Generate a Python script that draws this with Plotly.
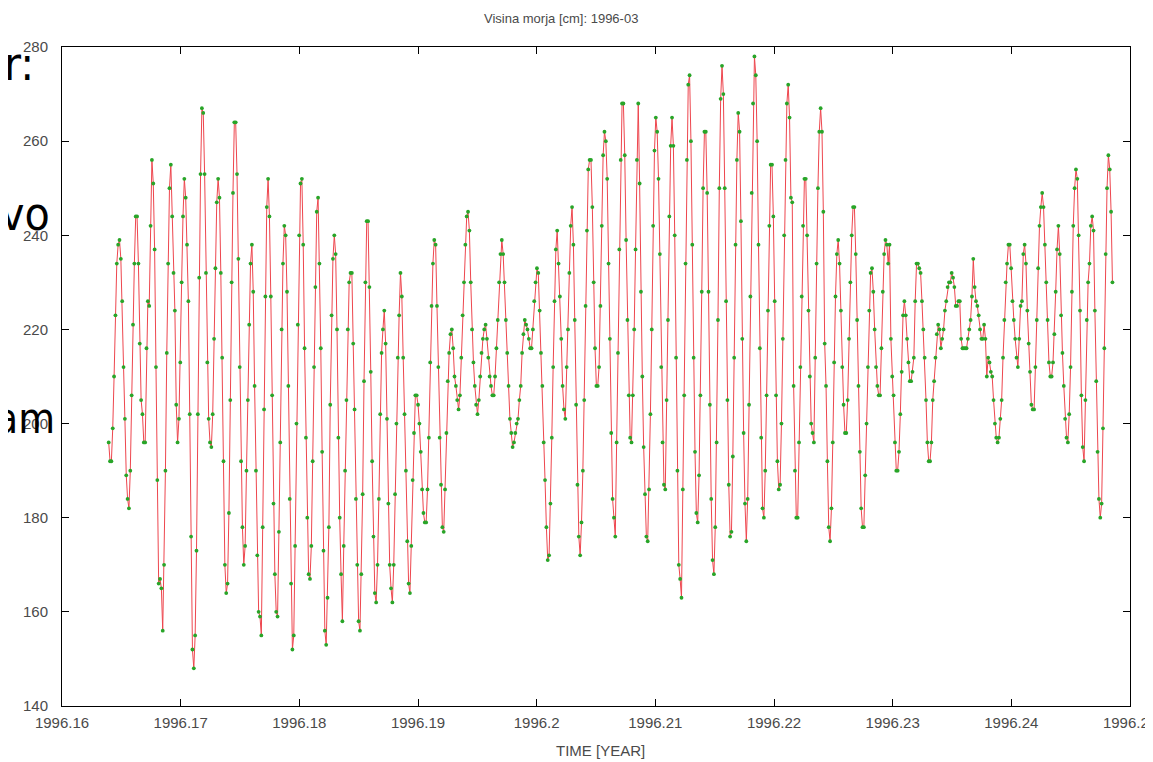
import plotly.graph_objects as go

# Hourly sea level, March 1996 (one row per day, 24 hourly readings)
sea_level_cm = [
    196,192,192,199,210,223,234,238,239,235,226,212,201,189,184,182,190,206,221,234,244,244,234,217,
    205,202,196,196,216,226,225,242,256,251,237,212,188,166,167,165,156,170,190,215,234,250,255,244,
    232,224,204,196,201,213,230,244,252,248,238,226,202,176,152,148,155,173,202,231,253,267,266,253,
    232,213,201,196,195,202,218,233,247,252,248,232,214,192,170,164,166,181,205,230,249,264,264,253,
    235,212,192,178,170,174,190,205,221,234,238,228,208,190,172,160,159,155,178,203,227,246,252,244,
    227,206,183,168,160,159,177,196,220,234,242,240,228,208,184,166,152,155,174,200,221,240,251,252,
    238,216,197,180,168,167,174,192,212,229,245,248,234,216,194,173,156,153,163,178,204,223,235,240,
    236,220,197,180,168,158,174,190,205,220,230,232,232,217,203,184,170,158,156,168,185,209,230,243,
    243,229,211,192,176,164,162,170,184,202,215,220,224,217,201,183,170,165,162,170,185,200,214,223,
    232,227,214,202,190,175,166,164,174,188,198,206,206,204,200,194,186,181,179,179,186,197,213,225,
    234,239,238,225,212,197,187,178,177,186,198,209,215,219,220,216,210,208,205,203,206,214,223,230,
    238,244,245,241,230,220,213,208,204,202,205,210,215,218,220,221,218,214,210,208,206,206,210,216,
    222,230,236,239,236,230,222,215,208,201,198,195,196,198,200,201,205,208,215,219,222,221,220,218,
    216,216,220,226,230,233,232,224,215,208,196,188,178,171,172,183,197,212,226,237,241,234,227,218,
    208,203,201,212,220,232,242,246,238,222,204,187,176,172,179,190,205,225,241,254,256,256,246,230,
    216,208,208,212,225,242,257,262,260,252,234,218,198,184,180,176,196,215,237,256,268,268,257,239,
    222,206,197,196,206,220,237,256,268,251,228,210,195,185,176,175,186,202,220,242,258,265,262,252,
    236,212,196,187,186,205,222,244,259,265,259,240,214,190,170,167,163,186,206,234,256,272,274,260,
    238,214,194,181,179,189,206,228,250,262,262,249,228,204,184,171,168,178,196,222,250,269,276,270,
    250,226,205,187,176,177,193,214,238,256,266,262,243,218,198,183,175,184,204,227,249,268,278,274,
    260,238,216,197,182,180,190,206,224,242,255,255,244,226,206,192,186,187,200,218,240,256,268,272,
    265,248,247,208,190,180,180,196,212,227,242,252,252,240,224,210,200,198,196,214,234,250,262,267,
    262,245,217,208,192,178,175,182,196,213,227,236,239,234,224,212,204,198,198,205,218,230,240,246,
    246,236,222,208,194,182,178,178,189,200,212,224,232,233,228,220,212,208,206,206,216,228,236,239,
    238,234,238,218,210,206,196,190,190,194,202,211,223,226,223,218,213,209,209,211,214,226,234,234,
    233,232,226,220,214,205,196,192,192,196,205,209,214,219,221,220,216,218,220,224,226,229,230,230,
    232,231,229,225,225,226,226,218,216,216,216,216,218,220,222,227,235,229,226,225,223,220,218,218,
    221,218,210,214,213,211,210,205,200,197,196,197,201,205,214,222,230,234,238,238,233,226,222,218,
    214,212,218,225,226,236,238,234,224,217,211,204,203,203,212,222,233,242,246,249,246,238,230,222,
    213,210,210,213,219,228,237,242,236,223,215,208,201,197,196,202,212,228,242,250,254,252,240,224,
    206,195,192,205,222,230,234,242,244,241,224,209,194,184,180,183,199,216,236,250,257,254,245,230,
]

YEAR = 1996
DAYS_IN_YEAR = 366
START_DAY = 60  # 1 March (0-based day of year)
time_year = [YEAR + (START_DAY + h / 24.0) / DAYS_IN_YEAR for h in range(len(sea_level_cm))]

x_ticks = [1996.16, 1996.17, 1996.18, 1996.19, 1996.20, 1996.21, 1996.22, 1996.23, 1996.24, 1996.25]
x_tick_labels = ["1996.16", "1996.17", "1996.18", "1996.19", "1996.2", "1996.21",
                 "1996.22", "1996.23", "1996.24", "1996.25"]
y_ticks = [140, 160, 180, 200, 220, 240, 260, 280]

title_text = "Visina morja [cm]: 1996-03"
x_title = "TIME [YEAR]"
overlay_words = ["r:", "vo", "am"]

FONT = "Liberation Sans, Arial, sans-serif"
GREY = "#4a4a4a"

# page geometry (the browser body adds an 8px margin around the figure)
PX0 = 62      # plot left edge on the page
PY0 = 47      # plot top edge on the page
PW = 1068     # plot width
PH = 659      # plot height
FIG_W, FIG_H = 1145, 754

fig = go.Figure()
fig.add_trace(go.Scatter(
    x=time_year, y=sea_level_cm, mode="lines+markers",
    line=dict(color="rgb(238,70,78)", width=1),
    marker=dict(color="rgb(40,165,40)", size=3.8, line=dict(width=0)),
    hoverinfo="skip",
))

axis_common = dict(
    showline=True, linecolor="black", linewidth=1, mirror="ticks",
    ticks="inside", ticklen=7, tickcolor="black", tickwidth=1,
    showgrid=False, zeroline=False, automargin=False,
    tickfont=dict(family=FONT, size=15, color=GREY),
)

fig.update_xaxes(range=[1996.16, 1996.25], tickvals=x_ticks, ticktext=x_tick_labels,
                 ticklabelstandoff=3, ticklabeloverflow="allow", **axis_common)
fig.update_yaxes(range=[140, 280], tickvals=y_ticks, ticklabelstandoff=10, **axis_common)

annotations = [
    dict(text=title_text, xref="paper", yref="paper", x=(561 - PX0) / PW, y=1 + (PY0 - 18) / PH,
         xanchor="center", yanchor="middle", showarrow=False,
         font=dict(family=FONT, size=13, color=GREY)),
    dict(text=x_title, xref="paper", yref="paper", x=(600 - PX0) / PW, y=-(750 - PH - PY0) / PH,
         xanchor="center", yanchor="middle", showarrow=False,
         font=dict(family=FONT, size=15, color=GREY)),
]
# large clipped words from the slide behind the chart (left edge)
overlay_pos = [(36, 64, 46), (52, 214, 46), (57, 418, 42)]
for word, (right_px, cy_px, fsize) in zip(overlay_words, overlay_pos):
    annotations.append(dict(
        text=word, xref="paper", yref="paper",
        x=(right_px - PX0) / PW, y=1 - (cy_px - PY0) / PH,
        xanchor="right", yanchor="middle", showarrow=False,
        font=dict(family="Liberation Sans Narrow, DejaVu Sans Condensed, Liberation Sans, sans-serif",
                  size=fsize, color="black"),
    ))

fig.update_layout(
    width=FIG_W, height=FIG_H,
    margin=dict(l=PX0 - 8, r=FIG_W + 8 - PX0 - PW, t=PY0 - 8, b=FIG_H + 8 - PY0 - PH),
    plot_bgcolor="white", paper_bgcolor="white",
    showlegend=False,
    annotations=annotations,
)

fig.write_html("out.html")
